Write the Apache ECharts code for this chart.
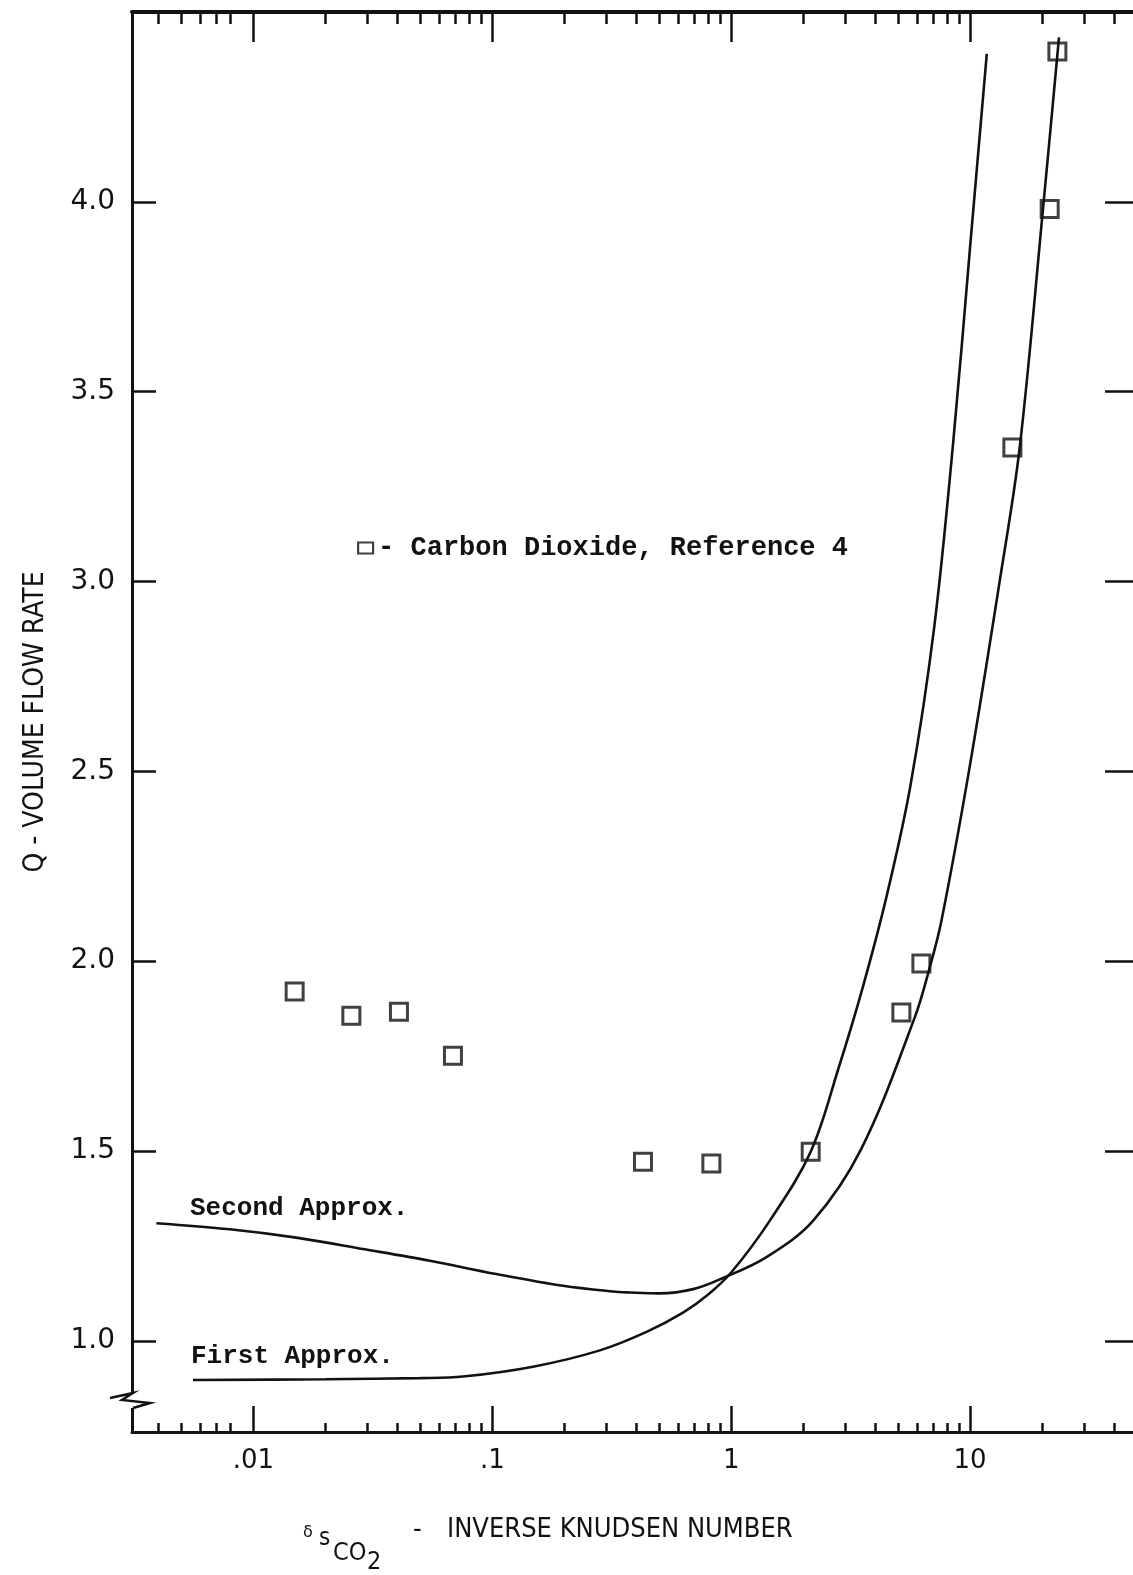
<!DOCTYPE html>
<html>
<head>
<meta charset="utf-8">
<script src="https://cdn.jsdelivr.net/npm/echarts@6/dist/echarts.min.js"></script>
<style>
  html, body { margin: 0; padding: 0; background: #fff; }
  #main { width: 1133px; height: 1575px; }
</style>
</head>
<body>
<div id="main"></div>
<script>
// Carbon dioxide data, Reference 4
const pointX = [0.01487, 0.02569, 0.04064, 0.0684, 0.4272, 0.826, 2.152, 5.158, 6.256, 15.04, 21.55, 23.21];
const pointY = [1.920, 1.856, 1.867, 1.751, 1.472, 1.467, 1.498, 1.865, 1.994, 3.353, 3.981, 4.396];

// First approximation curve
const firstX = [0.00558, 0.02, 0.05, 0.0753, 0.148, 0.282, 0.447, 0.631, 0.794, 1.0, 1.449, 2.152, 2.82, 3.55, 4.47, 5.62, 7.08, 8.51, 10.0, 11.75];
const firstY = [0.897, 0.899, 0.902, 0.906, 0.932, 0.975, 1.025, 1.075, 1.12, 1.18, 1.316, 1.498, 1.72, 1.93, 2.17, 2.46, 2.88, 3.37, 3.88, 4.39];

// Second approximation curve
const secondX = [0.00392, 0.00795, 0.01511, 0.02873, 0.0547, 0.1039, 0.1975, 0.3199, 0.3757, 0.5, 0.7, 0.92, 1.4, 2.2, 3.5, 5.87, 6.776, 7.586, 9.89, 13.3, 16.14, 20.2, 23.57];
const secondY = [1.310, 1.294, 1.272, 1.242, 1.211, 1.176, 1.145, 1.130, 1.1275, 1.125, 1.137, 1.165, 1.22, 1.316, 1.505, 1.852, 1.983, 2.106, 2.5, 3.0, 3.353, 3.981, 4.433];

const yTicks = [1.0, 1.5, 2.0, 2.5, 3.0, 3.5, 4.0];
const xMajor = [0.01, 0.1, 1, 10];
const xMinor = [0.004, 0.005, 0.006, 0.007, 0.008,
  0.02, 0.03, 0.04, 0.05, 0.06, 0.07, 0.08, 0.09,
  0.2, 0.3, 0.4, 0.5, 0.6, 0.7, 0.8, 0.9,
  2, 3, 4, 5, 6, 7, 8, 9, 20, 30, 40];
const xLabelText = { 0.01: '.01', 0.1: '.1', 1: '1', 10: '10' };

const ink = '#121212';
const mono = '"Liberation Mono", "DejaVu Sans Mono", monospace';
const cond = '"DejaVu Sans Condensed", "DejaVu Sans", sans-serif';

const chart = echarts.init(document.getElementById('main'));

function xAxisDef(pos, major) {
  return {
    type: 'log', min: 0.0031, max: 50, position: pos,
    axisLine: { show: major, onZero: false, lineStyle: { color: ink, width: pos === 'top' ? 4 : 3 } },
    axisTick: {
      show: true, inside: true,
      length: major ? (pos === 'top' ? 30 : 26) : (pos === 'top' ? 12 : 9),
      customValues: major ? xMajor : xMinor,
      lineStyle: { color: ink, width: 2.5 }
    },
    axisLabel: {
      show: major && pos === 'bottom',
      customValues: xMajor,
      margin: 16,
      formatter: v => xLabelText[v] || '',
      fontFamily: '"DejaVu Sans", sans-serif', fontSize: 26, color: ink
    },
    splitLine: { show: false }, minorTick: { show: false }
  };
}

function curve(name, xs, ys) {
  return {
    name: name, type: 'line', smooth: 0.35, showSymbol: false,
    xAxisIndex: 0, yAxisIndex: 0,
    lineStyle: { color: ink, width: 2.6 },
    data: xs.map((x, i) => [x, ys[i]])
  };
}

const option = {
  backgroundColor: '#fff',
  animation: false,
  grid: { left: 132, right: -4, top: 12, bottom: 143, outerBoundsMode: 'none' },
  legend: {
    data: [{ name: 'Carbon Dioxide, Reference 4', icon: 'rect' }],
    left: 352, top: 529,
    itemWidth: 15, itemHeight: 11,
    itemStyle: { color: 'rgba(0,0,0,0)', borderColor: ink, borderWidth: 2.2 },
    formatter: n => '- ' + n,
    textStyle: { fontFamily: mono, fontSize: 27, fontWeight: 'bold', color: ink, lineHeight: 28 }
  },
  xAxis: [xAxisDef('bottom', true), xAxisDef('bottom', false), xAxisDef('top', true), xAxisDef('top', false)],
  yAxis: [
    {
      type: 'value', min: 0.76, max: 4.5, position: 'left',
      name: 'Q - VOLUME FLOW RATE', nameLocation: 'middle', nameRotate: 90, nameGap: 82,
      nameTextStyle: { fontFamily: cond, fontSize: 28, color: ink },
      axisLine: { show: true, onZero: false, lineStyle: { color: ink, width: 3 } },
      axisTick: { show: true, inside: true, length: 24, customValues: yTicks, lineStyle: { color: ink, width: 2.5 } },
      axisLabel: {
        customValues: yTicks, margin: 17, padding: [0, 0, 32, 0],
        formatter: v => v.toFixed(1),
        fontFamily: '"DejaVu Sans", sans-serif', fontSize: 28, color: ink
      },
      splitLine: { show: false }
    },
    {
      type: 'value', min: 0.76, max: 4.5, position: 'right',
      axisLine: { show: true, onZero: false, lineStyle: { color: ink, width: 3 } },
      axisTick: { show: true, inside: true, length: 32, customValues: yTicks, lineStyle: { color: ink, width: 2.5 } },
      axisLabel: { show: false },
      splitLine: { show: false }
    }
  ],
  series: [
    curve('First Approx.', firstX, firstY),
    curve('Second Approx.', secondX, secondY),
    {
      name: 'Carbon Dioxide, Reference 4', type: 'scatter',
      xAxisIndex: 0, yAxisIndex: 0,
      symbol: 'rect', symbolSize: 17,
      itemStyle: { color: 'rgba(0,0,0,0)', borderColor: ink, borderWidth: 3 },
      data: pointX.map((x, i) => [x, pointY[i]]),
      z: 3
    }
  ],
  graphic: [
    // axis break on the left border
    { type: 'rect', shape: { x: 127, y: 1393, width: 10, height: 15 }, style: { fill: '#fff' }, z: 100 },
    {
      type: 'polyline', z: 101,
      shape: { points: [[110, 1398], [133, 1393], [122, 1400], [150, 1403], [133, 1408]] },
      style: { stroke: ink, lineWidth: 2.5, fill: null }
    },
    // curve annotations
    { type: 'text', left: 190, top: 1195, style: { text: 'Second Approx.', font: 'bold 26px ' + mono, fill: ink } },
    { type: 'text', left: 191, top: 1343, style: { text: 'First Approx.', font: 'bold 26px ' + mono, fill: ink } },
    // x axis title
    { type: 'text', x: 303, y: 1533, style: { text: 'δ', font: '16px "DejaVu Sans"', fill: ink, verticalAlign: 'middle' } },
    { type: 'text', x: 319, y: 1539, style: { text: 's', font: '24px ' + cond, fill: ink, verticalAlign: 'middle' } },
    { type: 'text', x: 333, y: 1553, style: { text: 'CO', font: '25px ' + cond, fill: ink, verticalAlign: 'middle' } },
    { type: 'text', x: 367, y: 1562, style: { text: '2', font: '25px ' + cond, fill: ink, verticalAlign: 'middle' } },
    { type: 'text', x: 413, y: 1530, style: { text: '-', font: '27px ' + cond, fill: ink, verticalAlign: 'middle' } },
    { type: 'text', x: 447, y: 1530, style: { text: 'INVERSE KNUDSEN NUMBER', font: '27px ' + cond, fill: ink, verticalAlign: 'middle' } }
  ]
};

chart.setOption(option);
</script>
</body>
</html>
